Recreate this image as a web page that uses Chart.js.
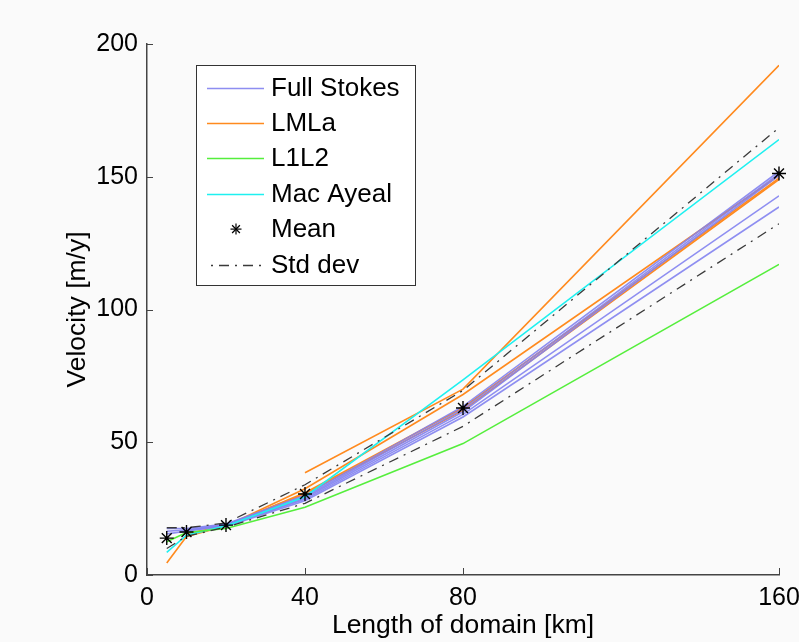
<!DOCTYPE html>
<html><head><meta charset="utf-8">
<script src="https://cdn.jsdelivr.net/npm/chart.js@4/dist/chart.umd.min.js"></script>
<style>html,body{margin:0;padding:0;background:#fafafa;overflow:hidden}#wrap{width:799px;height:642px}</style>
</head><body><div id="wrap"><canvas id="c" width="799" height="642"></canvas></div>
<script>
// ---- data ----
const domainKm = [5, 10, 20, 40, 80, 160];
const xTickValues = [0, 40, 80, 160];
const yTickValues = [0, 50, 100, 150, 200];

const fullStokes1 = [17.5, 17.5, 19.2, 30.0, 63.5, 152.0];
const fullStokes2 = [16.5, 17.0, 19.0, 29.5, 62.5, 151.2];
const fullStokes3 = [15.5, 16.5, 18.6, 29.0, 61.5, 150.5];
const fullStokes4 = [null, 16.8, 18.6, 28.5, 60.5, 142.8];
const fullStokes5 = [null, null, 18.3, 28.0, 59.5, 138.6];

const lmla1 = [null, null, null, 38.5, 70.0, 192.0];
const lmla2 = [4.5, 14.5, 18.5, 32.5, 68.0, 150.5];
const lmla3 = [null, 15.5, 18.6, 31.0, 63.0, 149.5];
const lmla4 = [null, null, 18.8, 30.5, 62.0, 149.0];

const l1l2 = [12.5, 16.0, 17.5, 25.5, 49.5, 117.0];
const macAyeal = [8.5, 15.0, 18.5, 29.5, 73.5, 164.0];

const meanVel = [13.9, 16.2, 18.8, 30.5, 62.9, 151.2];
const stdUpper = [17.8, 17.8, 19.6, 34.0, 69.5, 168.5];
const stdLower = [10.0, 14.6, 18.0, 27.0, 56.0, 132.3];

const legendLabels = ['Full Stokes', 'LMLa', 'L1L2', 'Mac Ayeal', 'Mean', 'Std dev'];

// ---- styles ----
const C_FS = 'rgba(130,130,240,0.9)';
const C_LM = '#ff8a1e';
const C_L1 = '#55ee3c';
const C_MA = '#1ef0f0';
const C_SD = '#3a3a3a';
const SD_DASH = [10, 6, 2, 6];
const FONT = 'Liberation Sans, Arial, Helvetica, sans-serif';

function pts(arr) {
  const out = [];
  arr.forEach((v, i) => { if (v !== null) out.push({x: domainKm[i], y: v}); });
  return out;
}
function lineDs(arr, color, order, extra) {
  return Object.assign({
    data: pts(arr), borderColor: color, backgroundColor: color,
    borderWidth: 1.6, pointRadius: 0, fill: false, tension: 0, order: order
  }, extra || {});
}

const datasets = [
  lineDs(lmla1, C_LM, 6), lineDs(lmla2, C_LM, 6), lineDs(lmla3, C_LM, 6), lineDs(lmla4, C_LM, 6),
  lineDs(fullStokes1, C_FS, 5), lineDs(fullStokes2, C_FS, 5), lineDs(fullStokes3, C_FS, 5),
  lineDs(fullStokes4, C_FS, 5), lineDs(fullStokes5, C_FS, 5),
  lineDs(l1l2, C_L1, 4), lineDs(macAyeal, C_MA, 4),
  lineDs(stdUpper, C_SD, 2, {borderDash: SD_DASH, borderWidth: 1.3}),
  lineDs(stdLower, C_SD, 2, {borderDash: SD_DASH, borderWidth: 1.3}),
  {data: pts(meanVel), showLine: false, pointStyle: 'star', pointRadius: 7,
   borderColor: '#000', backgroundColor: '#000', pointBorderWidth: 1.4, order: 1, clip: false}
];

const bgPlugin = {
  id: 'bg',
  beforeDraw(chart) {
    const ctx = chart.ctx; ctx.save(); ctx.fillStyle = '#fafafa';
    ctx.fillRect(0, 0, chart.width, chart.height); ctx.restore();
  }
};

const tickMarks = {
  id: 'tickMarks',
  afterDraw(chart) {
    const ctx = chart.ctx, xs = chart.scales.x, ys = chart.scales.y, a = chart.chartArea;
    ctx.save(); ctx.strokeStyle = '#444'; ctx.lineWidth = 1;
    xTickValues.forEach(v => {
      const px = Math.round(xs.getPixelForValue(v)) + 0.5;
      ctx.beginPath(); ctx.moveTo(px, a.bottom); ctx.lineTo(px, a.bottom - 7); ctx.stroke();
    });
    yTickValues.forEach(v => {
      const py = Math.round(ys.getPixelForValue(v)) + 0.5;
      ctx.beginPath(); ctx.moveTo(a.left, py); ctx.lineTo(a.left + 6, py); ctx.stroke();
    });
    ctx.restore();
  }
};

const boxLegend = {
  id: 'boxLegend',
  afterDraw(chart) {
    const ctx = chart.ctx;
    const bx = 196.5, by = 65.5, bw = 219, bh = 220;
    ctx.save();
    ctx.fillStyle = '#ffffff'; ctx.fillRect(bx, by, bw, bh);
    ctx.strokeStyle = '#333'; ctx.lineWidth = 1; ctx.strokeRect(bx, by, bw, bh);
    const styles = [
      {c: C_FS}, {c: C_LM}, {c: C_L1}, {c: C_MA}, {star: true}, {c: C_SD, dash: SD_DASH}
    ];
    ctx.font = '26px ' + FONT; ctx.textBaseline = 'middle'; ctx.fillStyle = '#000';
    legendLabels.forEach((lab, i) => {
      const y = 87.5 + i * 35.4;
      const s = styles[i];
      if (s.star) {
        const cx = 236, r = 5.5;
        ctx.strokeStyle = '#000'; ctx.lineWidth = 1.2; ctx.setLineDash([]);
        for (let k = 0; k < 4; k++) {
          const ang = k * Math.PI / 4;
          ctx.beginPath();
          ctx.moveTo(cx - r * Math.cos(ang), y - r * Math.sin(ang));
          ctx.lineTo(cx + r * Math.cos(ang), y + r * Math.sin(ang));
          ctx.stroke();
        }
      } else {
        ctx.strokeStyle = s.c; ctx.lineWidth = s.dash ? 1.3 : 1.6;
        ctx.setLineDash(s.dash || []);
        ctx.lineDashOffset = s.dash ? 12 : 0;
        ctx.beginPath(); ctx.moveTo(207, Math.round(y) + 0.5); ctx.lineTo(264, Math.round(y) + 0.5); ctx.stroke();
        ctx.setLineDash([]);
      }
      ctx.fillStyle = '#000';
      ctx.fillText(lab, 271, y + 1);
    });
    ctx.restore();
  }
};

new Chart(document.getElementById('c'), {
  type: 'line',
  data: {datasets: datasets},
  plugins: [bgPlugin, tickMarks, boxLegend],
  options: {
    responsive: false, animation: false, devicePixelRatio: 1,
    layout: {padding: {left: 62, right: 20, top: 44, bottom: 0}},
    plugins: {legend: {display: false}, tooltip: {enabled: false}},
    scales: {
      x: {
        type: 'linear', min: 0, max: 160,
        afterBuildTicks: s => { s.ticks = xTickValues.map(v => ({value: v})); },
        afterFit: s => { s.height = 67; s.paddingLeft = 0; s.paddingRight = 0; },
        grid: {display: true, drawOnChartArea: false, drawTicks: false},
        border: {display: true, color: '#444', width: 1.5},
        ticks: {color: '#000', padding: 8, maxRotation: 0, autoSkip: false,
                font: {family: FONT, size: 25}},
        title: {display: true, text: 'Length of domain [km]', color: '#000',
                font: {family: FONT, size: 26.5}, padding: {top: 0, bottom: 0}}
      },
      y: {
        type: 'linear', min: 0, max: 200,
        afterBuildTicks: s => { s.ticks = yTickValues.map(v => ({value: v})); },
        afterFit: s => { s.width = 85; s.paddingTop = 0; s.paddingBottom = 0; },
        grid: {display: true, drawOnChartArea: false, drawTicks: false},
        border: {display: true, color: '#444', width: 1.5},
        ticks: {color: '#000', padding: 9, font: {family: FONT, size: 25}},
        title: {display: true, text: 'Velocity [m/y]', color: '#000',
                font: {family: FONT, size: 26.5}, padding: {top: 0, bottom: 0}}
      }
    }
  }
});
</script></body></html>
